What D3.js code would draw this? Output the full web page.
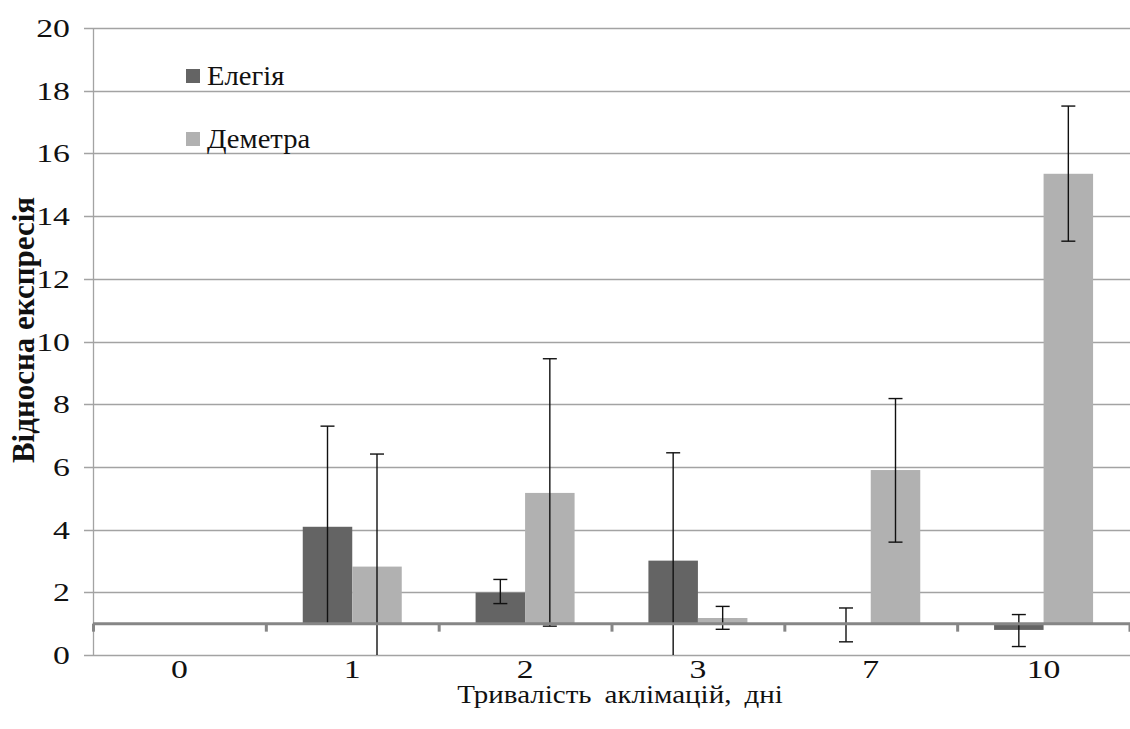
<!DOCTYPE html>
<html>
<head>
<meta charset="utf-8">
<script src="https://cdn.jsdelivr.net/npm/d3@7"></script>
<style>
  body { margin: 0; background: #fff; }
</style>
</head>
<body>
<div id="chart"></div>
<script>
// data
const days = ["0", "1", "2", "3", "7", "10"];
const series = ["Елегія", "Деметра"];
const elegia = [1.0, 4.09, 1.99, 3.01, 1.0, 0.80];
const demetra = [1.0, 2.82, 5.17, 1.18, 5.9, 15.35];
// error bar ends (null = none drawn)
const elegiaHigh = [null, 7.30, 2.41, 6.45, 1.50, 1.29];
const elegiaLow  = [null, 1.0, 1.64, 0, 0.42, 0.27];
const demetraHigh = [null, 6.41, 9.45, 1.55, 8.18, 17.51];
const demetraLow  = [null, 0, 0.92, 0.82, 3.60, 13.2];
const yTicks = [0, 2, 4, 6, 8, 10, 12, 14, 16, 18, 20];
const colors = ["#646464", "#b1b1b1"];

const width = 1130;
const height = 729;
const margin = {left: 93, right: 0, top: 28, bottom: 74};
const base = 1; // horizontal axis crosses at 1
const font = "'Liberation Serif', 'DejaVu Serif', 'Times New Roman', serif";

const svg = d3.select("#chart")
  .append("svg")
  .attr("width", width)
  .attr("height", height)
  .attr("font-family", font)
  .style("font-family", font);

// text is drawn a bit wider than tall, like the reference
function place(sel, fx, fy, sx) {
  return sel.attr("transform", (d, i) => `translate(${fx(d, i)},${fy(d, i)}) scale(${sx},1)`);
}

const x = d3.scaleBand()
  .domain(days)
  .range([margin.left, width - margin.right])
  .padding(0);

const y = d3.scaleLinear()
  .domain([0, 20])
  .range([height - margin.bottom, margin.top]);

const groupW = 99;
const x1 = d3.scaleBand()
  .domain(series)
  .range([(x.bandwidth() - groupW) / 2, (x.bandwidth() + groupW) / 2])
  .padding(0);

// gridlines + y tick labels
svg.append("g")
  .selectAll("line")
  .data(yTicks)
  .enter()
  .append("line")
  .attr("x1", margin.left - 9)
  .attr("x2", width)
  .attr("y1", d => Math.round(y(d)) + 0.5)
  .attr("y2", d => Math.round(y(d)) + 0.5)
  .attr("stroke", "#a3a3a3")
  .attr("stroke-width", 1.3);

const yLabels = svg.append("g")
  .selectAll("text")
  .data(yTicks)
  .enter()
  .append("text")
  .attr("text-anchor", "end")
  .attr("fill", "#111")
  .style("font-size", "26px")
  .text(d => d);
place(yLabels, () => 70, d => y(d) + 9, 1.3);

// vertical axis line
svg.append("line")
  .attr("x1", margin.left + 0.5).attr("x2", margin.left + 0.5)
  .attr("y1", y(20)).attr("y2", y(0))
  .attr("stroke", "#a3a3a3")
  .attr("stroke-width", 1.3);

// bars
const rows = days.map((d, i) => ({
  day: d,
  vals: [
    {s: series[0], v: elegia[i], hi: elegiaHigh[i], lo: elegiaLow[i], c: colors[0]},
    {s: series[1], v: demetra[i], hi: demetraHigh[i], lo: demetraLow[i], c: colors[1]}
  ]
}));

const groups = svg.append("g")
  .selectAll("g")
  .data(rows)
  .enter()
  .append("g")
  .attr("transform", d => `translate(${x(d.day)},0)`);

groups.selectAll("rect")
  .data(d => d.vals)
  .enter()
  .append("rect")
  .attr("x", d => x1(d.s))
  .attr("width", x1.bandwidth())
  .attr("y", d => y(Math.max(d.v, base)))
  .attr("height", d => Math.abs(y(d.v) - y(base)))
  .attr("fill", d => d.c);

// baseline axis at y = 1
svg.append("line")
  .attr("x1", margin.left).attr("x2", width)
  .attr("y1", y(base)).attr("y2", y(base))
  .attr("stroke", "#868686")
  .attr("stroke-width", 3);

svg.append("g")
  .selectAll("line")
  .data(days.concat(["end"]))
  .enter()
  .append("line")
  .attr("x1", (d, i) => i < days.length ? x(d) + 0.5 : width)
  .attr("x2", (d, i) => i < days.length ? x(d) + 0.5 : width)
  .attr("y1", y(base))
  .attr("y2", y(base) + 8)
  .attr("stroke", "#868686")
  .attr("stroke-width", 3);

// error bars
const capW = 14;
const eb = groups.selectAll("g.err")
  .data(d => d.vals.filter(v => v.hi !== null))
  .enter()
  .append("g")
  .attr("class", "err")
  .attr("stroke", "#111")
  .attr("stroke-width", 1.4);

eb.append("line")
  .attr("x1", d => x1(d.s) + x1.bandwidth() / 2)
  .attr("x2", d => x1(d.s) + x1.bandwidth() / 2)
  .attr("y1", d => y(d.hi))
  .attr("y2", d => y(d.lo));

eb.append("line")
  .attr("x1", d => x1(d.s) + x1.bandwidth() / 2 - capW / 2)
  .attr("x2", d => x1(d.s) + x1.bandwidth() / 2 + capW / 2)
  .attr("y1", d => y(d.hi))
  .attr("y2", d => y(d.hi));

// lower caps only where the bar end is not clipped
eb.filter(d => d.lo > 0 && d.lo !== base)
  .append("line")
  .attr("x1", d => x1(d.s) + x1.bandwidth() / 2 - capW / 2)
  .attr("x2", d => x1(d.s) + x1.bandwidth() / 2 + capW / 2)
  .attr("y1", d => y(d.lo))
  .attr("y2", d => y(d.lo));

// x tick labels
const xLabels = svg.append("g")
  .selectAll("text")
  .data(days)
  .enter()
  .append("text")
  .attr("text-anchor", "middle")
  .attr("fill", "#111")
  .style("font-size", "25px")
  .text(d => d);
place(xLabels, d => x(d) + x.bandwidth() / 2, () => y(0) + 23, 1.35);

// axis titles
svg.append("text")
  .attr("text-anchor", "middle")
  .attr("fill", "#111")
  .style("font-size", "25px")
  .style("word-spacing", "5px")
  .attr("transform", "translate(620,703) scale(1.16,1)")
  .text("Тривалість аклімацій, дні");

svg.append("text")
  .attr("transform", "translate(34,330) rotate(-90)")
  .attr("text-anchor", "middle")
  .attr("fill", "#111")
  .style("font-size", "31px")
  .style("font-weight", "bold")
  .text("Відносна експресія");

// legend
const legend = svg.append("g")
  .selectAll("g")
  .data(series)
  .enter()
  .append("g")
  .attr("transform", (d, i) => `translate(186,${69 + i * 63})`);

legend.append("rect")
  .attr("width", 14)
  .attr("height", 14)
  .attr("fill", (d, i) => colors[i]);

legend.append("text")
  .attr("transform", "translate(21,16) scale(1.06,1)")
  .attr("fill", "#111")
  .style("font-size", "27px")
  .text(d => d);
</script>
</body>
</html>
